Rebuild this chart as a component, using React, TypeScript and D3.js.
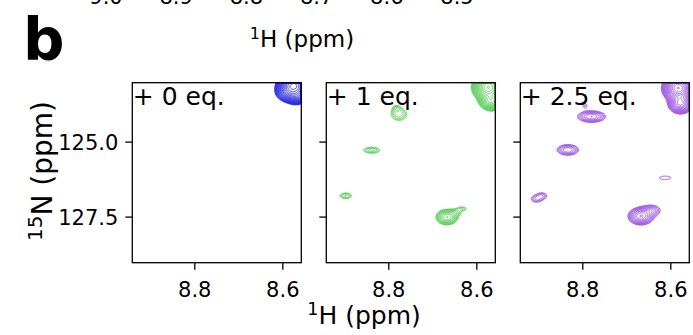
import React, { useMemo } from "react";
import * as d3 from "d3";

const W = 693;
const H = 335;

// ---- axes / labels ----
const panelLabels = ["+ 0 eq.", "+ 1 eq.", "+ 2.5 eq."];
const panelColors = ["#1f1fe0", "#55cc55", "#9a4fe0"];
const hDomain: [number, number] = [8.942, 8.558];
const nDomain: [number, number] = [123.02, 129.02];
const hTicks = [8.8, 8.6];
const nTicks = [125.0, 127.5];
const topTicks = [9.0, 8.9, 8.8, 8.7, 8.6, 8.5];

// ---- peak lists (1H ppm, 15N ppm, width H, width N, intensity) ----
const p0H = [8.575, 8.57, 8.59];
const p0N = [123.12, 123.45, 123.3];
const p0SH = [0.014, 0.012, 0.012];
const p0SN = [0.17, 0.13, 0.15];
const p0A = [60, 15, 12];

const p1H = [8.574, 8.567, 8.777, 8.783, 8.839, 8.898, 8.668, 8.648, 8.633];
const p1N = [123.17, 123.6, 124.07, 123.88, 125.27, 126.79, 127.5, 127.35, 127.22];
const p1SH = [0.014, 0.012, 0.0135, 0.006, 0.0145, 0.011, 0.0125, 0.01, 0.01];
const p1SN = [0.18, 0.15, 0.16, 0.08, 0.08, 0.08, 0.13, 0.08, 0.06];
const p1A = [45, 20, 2.3, 1.4, 2.2, 2.0, 7.5, 1.6, 1.5];

const p2H = [8.583, 8.578, 8.78, 8.795, 8.834, 8.906, 8.893, 8.668, 8.645, 8.613];
const p2N = [123.2, 123.7, 124.15, 123.78, 125.26, 126.9, 126.79, 127.47, 127.28, 126.19];
const p2SH = [0.014, 0.012, 0.018, 0.006, 0.015, 0.01, 0.01, 0.014, 0.014, 0.021];
const p2SN = [0.18, 0.15, 0.11, 0.1, 0.11, 0.09, 0.09, 0.14, 0.12, 0.093];
const p2A = [45, 20, 4.8, 1.3, 3.8, 1.8, 1.8, 9.3, 3.0, 1.2];

const peakSets = [
  { h: p0H, n: p0N, sh: p0SH, sn: p0SN, a: p0A },
  { h: p1H, n: p1N, sh: p1SH, sn: p1SN, a: p1A },
  { h: p2H, n: p2N, sh: p2SH, sn: p2SN, a: p2A },
];

const levelBase = 1;
const levelFactor = 1.25;
const levelCount = 30;

// ---- layout ----
const panelLeft = [132.3, 326.3, 520.3];
const panelTop = 82.7;
const panelW = 169;
const panelH = 180;
const FONT = "DejaVu Sans, Verdana, sans-serif";

function Panel({ idx }: { idx: number }) {
  const left = panelLeft[idx];
  const x = d3.scaleLinear().domain(hDomain).range([left, left + panelW]);
  const y = d3.scaleLinear().domain(nDomain).range([panelTop, panelTop + panelH]);
  const step = 0.5;
  const nx = Math.ceil(panelW / step);
  const ny = Math.ceil(panelH / step);
  const paths = useMemo(() => {
    const ps = peakSets[idx];
    const vals = new Float64Array(nx * ny);
    for (let j = 0; j < ny; j++) {
      const nv = y.invert(panelTop + (j + 0.5) * step);
      for (let i = 0; i < nx; i++) {
        const hv = x.invert(left + (i + 0.5) * step);
        let s = 0;
        for (let k = 0; k < ps.h.length; k++) {
          const dx = (hv - ps.h[k]) / ps.sh[k];
          const dy = (nv - ps.n[k]) / ps.sn[k];
          s += ps.a[k] * Math.exp(-0.5 * (dx * dx + dy * dy));
        }
        vals[j * nx + i] = s;
      }
    }
    const thresholds = d3.range(levelCount).map((k) => levelBase * Math.pow(levelFactor, k));
    const cs = d3.contours().size([nx, ny]).thresholds(thresholds)(Array.from(vals));
    const gp = d3.geoPath(d3.geoIdentity().scale(step));
    return cs.map((c) => gp(c as any) || "");
  }, [idx]);
  const clipId = `clip${idx}`;
  return (
    <g>
      <defs>
        <clipPath id={clipId}>
          <rect x={left} y={panelTop} width={panelW} height={panelH} />
        </clipPath>
      </defs>
      <g clipPath={`url(#${clipId})`}>
        <g transform={`translate(${left},${panelTop})`}>
          {paths.map((d, i) => (
            <path key={i} d={d} fill="none" stroke={panelColors[idx]} strokeWidth={0.9} />
          ))}
        </g>
      </g>
      <rect x={left} y={panelTop} width={panelW} height={panelH} fill="none" stroke="#000" strokeWidth={1.3} />
      {nTicks.map((t) => (
        <line key={t} x1={left - 7} x2={left} y1={y(t)} y2={y(t)} stroke="#000" strokeWidth={1.3} />
      ))}
      {hTicks.map((t) => (
        <g key={t}>
          <line x1={x(t)} x2={x(t)} y1={panelTop + panelH} y2={panelTop + panelH + 7} stroke="#000" strokeWidth={1.3} />
          <text x={x(t)} y={297} textAnchor="middle" fontSize={21} fontFamily={FONT} fill="#000">
            {t.toFixed(1)}
          </text>
        </g>
      ))}
      {idx === 0 &&
        nTicks.map((t) => (
          <text key={t} x={left - 14} y={y(t) + 7.5} textAnchor="end" fontSize={21} fontFamily={FONT} fill="#000">
            {t.toFixed(1)}
          </text>
        ))}
      <text x={left + 0.5} y={104.5} fontSize={25} fontFamily={FONT} fill="#000">
        {panelLabels[idx]}
      </text>
    </g>
  );
}

export default function App() {
  const topX = d3.scaleLinear().domain([9.0, 8.5]).range([106, 457]);
  return (
    <svg width={W} height={H} style={{ display: "block", position: "absolute", left: 0, top: 0, background: "#fff" }}>
      <rect x={0} y={0} width={W} height={H} fill="#fff" />
      {topTicks.map((t) => (
        <text key={t} x={topX(t)} y={4} textAnchor="middle" fontSize={21} fontFamily={FONT} fill="#000">
          {t.toFixed(1)}
        </text>
      ))}
      <text x={302} y={47} textAnchor="middle" fontSize={23} fontFamily={FONT} fill="#000">
        <tspan fontSize={16} dy={-8}>1</tspan>
        <tspan dy={8}>H (ppm)</tspan>
      </text>
      <text x={23} y={60} fontSize={58} fontWeight="bold" fontFamily={FONT} fill="#000">
        b
      </text>
      {[0, 1, 2].map((i) => (
        <Panel key={i} idx={i} />
      ))}
      <text x={364} y={324} textAnchor="middle" fontSize={25} fontFamily={FONT} fill="#000">
        <tspan fontSize={17.5} dy={-9}>1</tspan>
        <tspan dy={9}>H (ppm)</tspan>
      </text>
      <text transform={`translate(52,171) rotate(-90)`} textAnchor="middle" fontSize={28} fontFamily={FONT} fill="#000">
        <tspan fontSize={20} dy={-10}>15</tspan>
        <tspan dy={10}>N (ppm)</tspan>
      </text>
    </svg>
  );
}
